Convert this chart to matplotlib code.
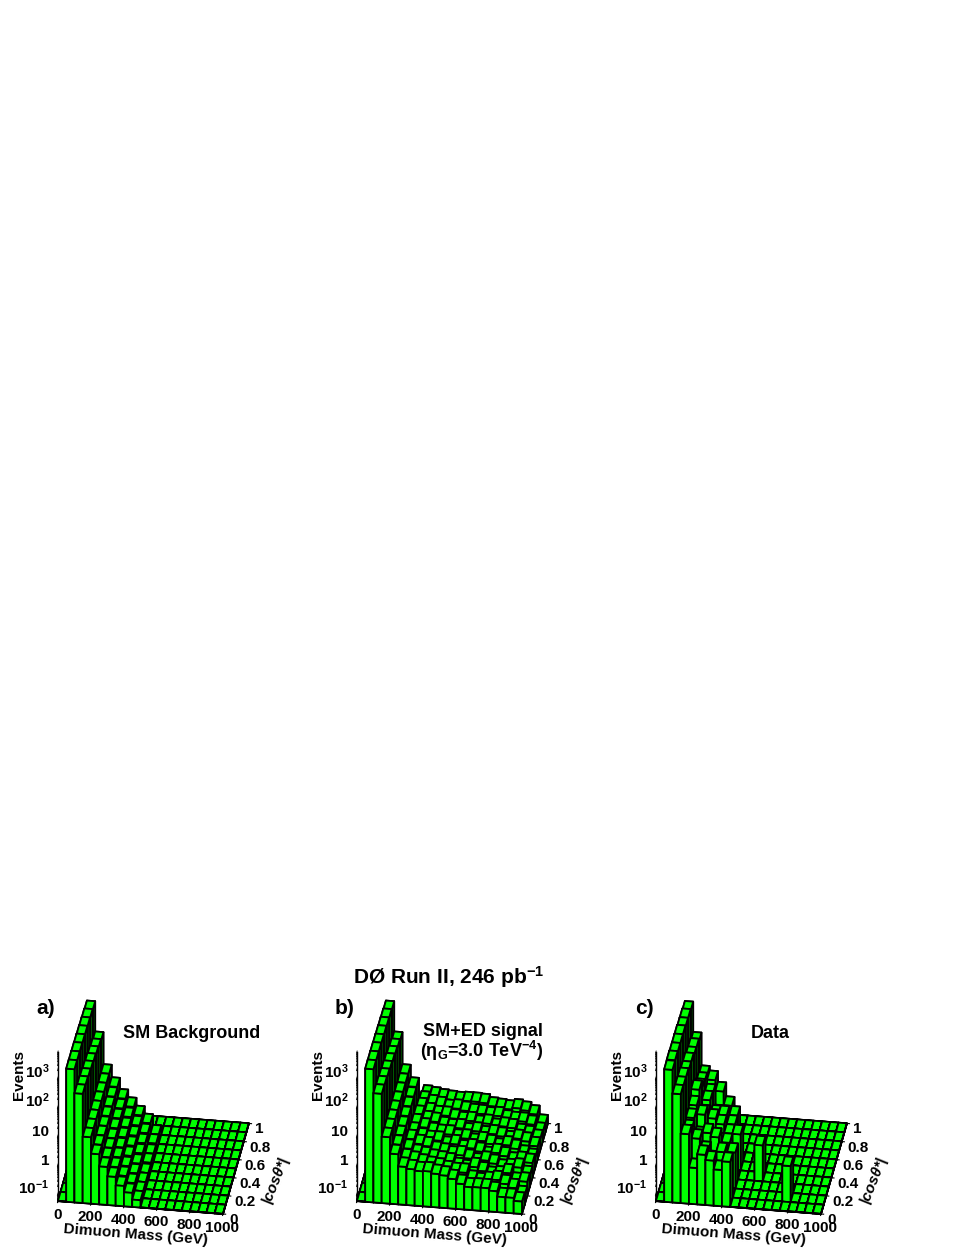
import numpy as np
import matplotlib
matplotlib.use("Agg")
import matplotlib.pyplot as plt

plt.rcParams['font.family'] = ['Liberation Sans', 'DejaVu Sans']
plt.rcParams['font.weight'] = 'bold'
plt.rcParams['mathtext.fontset'] = 'custom'
plt.rcParams['mathtext.rm'] = 'Liberation Sans:bold'
plt.rcParams['mathtext.it'] = 'Liberation Sans:bold'
plt.rcParams['mathtext.bf'] = 'Liberation Sans:bold'
plt.rcParams['mathtext.default'] = 'rm'

W, H = 969, 1254

mass_edges = np.arange(0, 1001, 50)
cos_edges = np.arange(0, 1.01, 0.1)

mass_ticks = [0, 200, 400, 600, 800, 1000]
cos_ticks = [0, 0.2, 0.4, 0.6, 0.8, 1]
cos_labels = ['0', '0.2', '0.4', '0.6', '0.8', '1']
event_ticks = [0.1, 1, 10, 100, 1000]
event_labels = ['$10^{-1}$', '1', '10', '$10^{2}$', '$10^{3}$']
events_min, events_max = 0.056, 8000

# events per mass column (outer) and cos bin, front to back, 0 = empty
zero = [0] * 10
head_bkg = [
    zero,
    [2200, 2150, 2100, 2000, 1900, 1800, 1700, 1550, 0, 0],
    [330, 310, 280, 250, 220, 190, 165, 140, 0, 0],
    [11, 11, 11, 11, 11, 11, 11, 11, 0, 0],
    [3.0, 3.1, 3.2, 3.3, 3.5, 3.7, 3.9, 4.1, 0, 0],
]
tail_bkg = [
    [1.15, 1.2, 1.25, 1.3, 1.4, 1.5, 1.6, 1.7, 0, 0],
    [0.55, 0.58, 0.62, 0.66, 0.72, 0.78, 0.85, 0.93, 0, 0],
    [0.28, 0.3, 0.32, 0.35, 0.38, 0.42, 0.46, 0.5, 0, 0],
    [0.17, 0.18, 0.19, 0.2, 0.22, 0.24, 0.26, 0.28, 0, 0],
    [0.1, 0.1, 0.1, 0.1, 0.11, 0.11, 0.12, 0.12, 0, 0],
] + [zero] * 10
tail_sig = [
    [1.15, 1.1, 1.15, 1.2, 1.05, 1.0, 0.95, 0.85, 0.7, 0.55],
    [1.0, 0.95, 0.8, 0.85, 0.7, 0.75, 0.65, 0.6, 0.55, 0.5],
    [0.9, 0.8, 0.7, 0.75, 0.6, 0.55, 0.6, 0.5, 0.5, 0.45],
    [0.93, 0.7, 0.6, 0.55, 0.6, 0.5, 0.45, 0.5, 0.42, 0.42],
    [0.8, 0.65, 0.55, 0.5, 0.42, 0.5, 0.4, 0.42, 0.45, 0.4],
    [0.74, 0.55, 0.5, 0.42, 0.5, 0.38, 0.42, 0.36, 0.4, 0.42],
    [0.59, 0.5, 0.36, 0.45, 0.35, 0.4, 0.32, 0.38, 0.35, 0.42],
    [0.42, 0.5, 0.32, 0.36, 0.4, 0.3, 0.36, 0.3, 0.34, 0.4],
    [0.34, 0.3, 0.4, 0.28, 0.32, 0.36, 0.28, 0.34, 0.3, 0.32],
    [0.35, 0.26, 0.3, 0.34, 0.24, 0.3, 0.32, 0.26, 0.32, 0.3],
    [0.35, 0.3, 0.22, 0.28, 0.32, 0.24, 0.28, 0.3, 0.26, 0.28],
    [0.29, 0.34, 0.24, 0.2, 0.26, 0.3, 0.22, 0.28, 0.24, 0.32],
    [0.19, 0.26, 0.3, 0.22, 0.18, 0.24, 0.26, 0.2, 0.24, 0.28],
    [0.19, 0.2, 0.16, 0.24, 0.2, 0.16, 0.22, 0.18, 0.2, 0.22],
    [0.15, 0.12, 0.17, 0.14, 0.18, 0.13, 0.16, 0.14, 0.12, 0.11],
]
data_events = [
    zero,
    [2100, 2200, 2050, 2000, 1950, 1750, 1700, 1500, 0, 0],
    [320, 300, 290, 240, 230, 180, 170, 135, 0, 0],
    [14, 10, 12, 16, 27, 15, 12, 10, 0, 0],
    [1, 5, 3, 8, 4, 6, 5, 7, 0, 0],
    [3, 2, 4, 1, 3, 2, 1, 3, 0, 0],
    [2, 1, 3, 1, 2, 2, 1, 1, 0, 0],
    [1, 2, 0, 1, 1, 1, 1, 0, 0, 0],
    [2, 0, 1, 0, 1, 0, 0, 0, 0, 0],
    zero, zero,
    [0, 0, 0, 1, 0, 0, 0, 0, 0, 0],
    zero, zero, zero,
    [0, 1, 0, 0, 0, 0, 0, 0, 0, 0],
    zero, zero, zero, zero,
]
bkg_events = head_bkg + tail_bkg
sig_events = head_bkg + tail_sig

BRIGHT = '#00ff00'
DARK = '#007a00'


def px(x, y):
    return x / W, 1 - y / H


def draw_panel(x_off, events, letter):
    side = 290
    cx, cy = 149.5 + x_off, 1091.5
    ax = fig.add_axes([(cx - side / 2) / W, 1 - (cy + side / 2) / H, side / W, side / H],
                      projection='3d', proj_type='ortho')
    ax.patch.set_alpha(0)
    ax.computed_zorder = False
    ax.view_init(elev=31.5, azim=-81.5)
    ax.set_box_aspect((1, 1.05, 1.05), zoom=1.0)

    floor = np.log10(events_min)
    events = np.array(events, dtype=float)
    face_colors = ['k', BRIGHT, BRIGHT, BRIGHT, DARK, DARK]
    order = 1
    # painter's order, back row first and low mass first in each row
    for r in range(len(cos_edges) - 2, -1, -1):
        for j in range(len(mass_edges) - 1):
            v = events[j, r]
            top = np.log10(v) if v > 0 else floor + 0.005
            ax.bar3d(mass_edges[j], cos_edges[r], floor, 50, 0.1, top - floor,
                     color=face_colors, edgecolor='k', linewidth=1.3,
                     shade=False, zorder=order)
            order += 1

    ax.set_xlim(0, 1000)
    ax.set_ylim(0, 1)
    ax.set_zlim(floor, np.log10(events_max))

    ax.set_xticks(mass_ticks)
    ax.set_yticks(cos_ticks)
    ax.set_yticklabels(cos_labels, ha='left', va='center')
    ax.set_zticks(np.log10(event_ticks))
    ax.set_zticklabels(event_labels, ha='right', va='bottom')
    minor = [m * 10.0 ** e for e in range(-2, 4) for m in range(2, 10)]
    minor = [m for m in minor if events_min <= m <= events_max]
    ax.set_zticks(np.log10(minor), minor=True)
    ax.tick_params(axis='x', labelsize=11, pad=-5)
    ax.tick_params(axis='y', labelsize=11, pad=-4)
    ax.tick_params(axis='z', labelsize=11, pad=-3)
    ax.zaxis.set_ticks_position('lower')
    ax.grid(False)
    for axis in (ax.xaxis, ax.yaxis, ax.zaxis):
        axis.set_pane_color((1, 1, 1, 0))
        axis.pane.set_edgecolor((1, 1, 1, 0))
        axis.line.set_linewidth(1.0)

    tx, ty = px(46 + x_off, 1009)
    fig.text(tx, ty, letter, fontsize=15, ha='center', va='center')
    tx, ty = px(136 + x_off, 1235)
    fig.text(tx, ty, 'Dimuon Mass (GeV)', fontsize=11, rotation=-4.5,
             ha='center', va='center')
    tx, ty = px(275 + x_off, 1180)
    fig.text(tx, ty, '|cos\u03b8*|', fontsize=11, rotation=68, style='italic',
             ha='center', va='center')
    tx, ty = px(19 + x_off, 1075)
    fig.text(tx, ty, 'Events', fontsize=11, rotation=90, ha='center', va='center')


fig = plt.figure(figsize=(W / 100, H / 100), dpi=100)

draw_panel(0, bkg_events, 'a)')
draw_panel(299, sig_events, 'b)')
draw_panel(598, data_events, 'c)')

tx, ty = px(449, 977)
fig.text(tx, ty, 'D\u00d8 Run II, 246 pb$^{-1}$', fontsize=15, ha='center', va='center')
tx, ty = px(192, 1033)
fig.text(tx, ty, 'SM Background', fontsize=13, ha='center', va='center')
tx, ty = px(483, 1032)
fig.text(tx, ty, 'SM+ED signal', fontsize=13, ha='center', va='center')
tx, ty = px(482, 1051)
fig.text(tx, ty, '(\u03b7$_{G}$=3.0 TeV$^{-4}$)', fontsize=13, ha='center', va='center')
tx, ty = px(770, 1034)
fig.text(tx, ty, 'Data', fontsize=13, ha='center', va='center')

fig.savefig('out.png', dpi=100)
